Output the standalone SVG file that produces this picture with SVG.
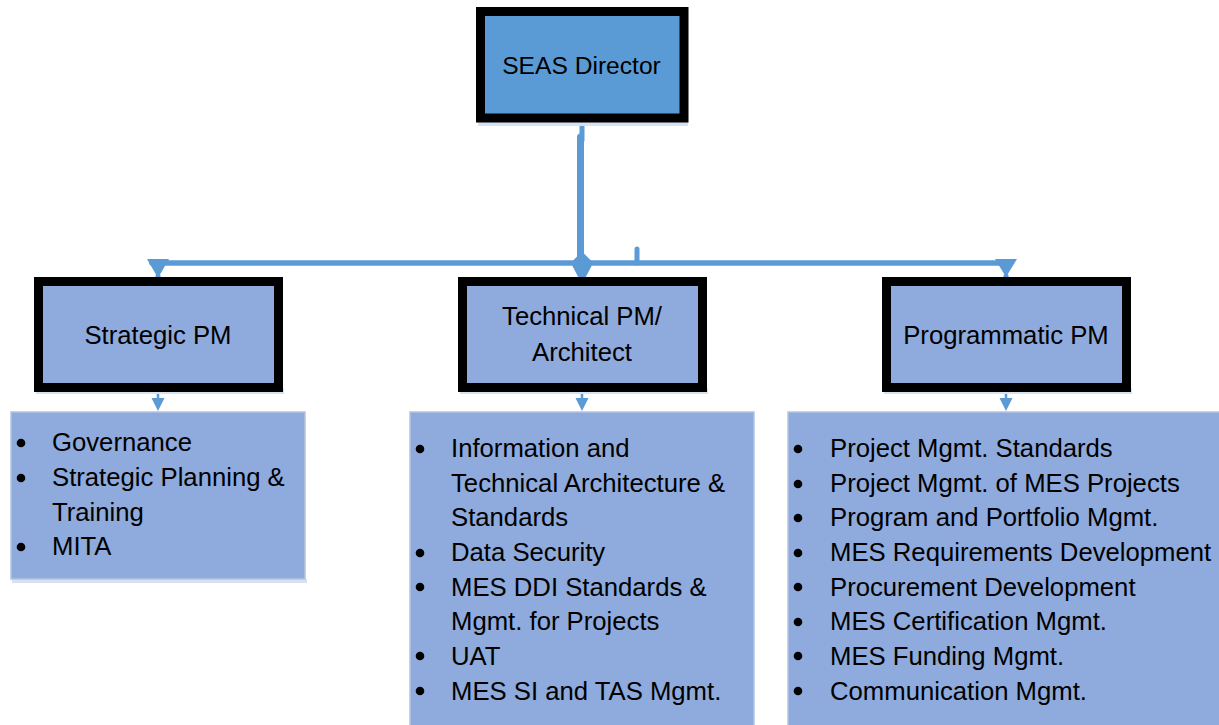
<svg xmlns="http://www.w3.org/2000/svg" width="1219" height="725" viewBox="0 0 1219 725">
<defs>
<style>
.t{font-family:"Liberation Sans",Arial,sans-serif;font-size:25.7px;fill:#000}
.c{text-anchor:middle}
.pm{fill:#8FAADC;stroke:#000;stroke-width:9}
.dir{fill:#5B9BD5;stroke:#000;stroke-width:9}
.sh{fill:#D6E1F2}
.lst{fill:#8FAADC;stroke:#B4C3DF;stroke-width:1.5}
.cn{stroke:#5B9BD5;fill:none;stroke-linecap:round}
.ah{fill:#5B9BD5}
.b{fill:#000}
</style>
</defs>
<rect width="1219" height="725" fill="#fff"/>

<g id="connectors">
  <path class="cn" d="M582 118 V140" stroke-width="5"/>
  <path class="cn" d="M580.5 137 V262" stroke-width="7"/>
  <path class="cn" d="M152 263 H1010" stroke-width="5.5"/>
  <path class="cn" d="M637 249 V263" stroke-width="5"/>
  <polygon class="ah" points="147,259 169,259 158,278"/>
  <path class="cn" d="M158 276 V282" stroke-width="5"/>
  <polygon class="ah" points="995,259 1017,259 1006,277"/>
  <path class="cn" d="M1006 276 V282" stroke-width="5"/>
  <polygon class="ah" points="582,253 592,263 582,282 572,263" stroke="#5B9BD5" stroke-width="2" stroke-linejoin="round"/>
  <path class="cn" d="M158 393 V401" stroke-width="2.5"/>
  <polygon class="ah" points="151.5,398 164.5,398 158,411"/>
  <path class="cn" d="M582 393 V401" stroke-width="2.5"/>
  <polygon class="ah" points="575.5,398 588.5,398 582,411"/>
  <path class="cn" d="M1006 393 V401" stroke-width="2.5"/>
  <polygon class="ah" points="999.5,398 1012.5,398 1006,411"/>
</g>

<g id="seas-director">
  <rect class="sh" x="478" y="118" width="210" height="8"/>
  <rect class="dir" x="480.5" y="11.5" width="203.5" height="106.5"/>
  <text class="t c" x="581.5" y="74" style="font-size:24.6px">SEAS Director</text>
</g>

<g id="strategic-pm">
  <rect class="sh" x="36" y="388" width="248" height="6"/>
  <rect class="pm" x="38.5" y="281.5" width="240" height="106"/>
  <text class="t c" x="158" y="344">Strategic PM</text>
</g>

<g id="technical-pm">
  <rect class="sh" x="460" y="388" width="248" height="6"/>
  <rect class="pm" x="462.5" y="281.5" width="240" height="106"/>
  <text class="t c" x="582" y="325">Technical PM/</text>
  <text class="t c" x="582" y="361">Architect</text>
</g>

<g id="programmatic-pm">
  <rect class="sh" x="884" y="388" width="248" height="6"/>
  <rect class="pm" x="886.5" y="281.5" width="240" height="106"/>
  <text class="t c" x="1006" y="344">Programmatic PM</text>
</g>

<g id="strategic-list">
  <rect class="sh" x="12" y="579" width="295" height="4"/>
  <rect class="lst" x="11" y="412" width="294" height="167"/>
  <circle class="b" cx="21" cy="443" r="4.3"/>
  <circle class="b" cx="21" cy="478" r="4.3"/>
  <circle class="b" cx="21" cy="547" r="4.3"/>
  <text class="t" x="52" y="451">Governance</text>
  <text class="t" x="52" y="486">Strategic Planning &amp;</text>
  <text class="t" x="52" y="521">Training</text>
  <text class="t" x="52" y="555">MITA</text>
</g>

<g id="technical-list">
  <rect class="lst" x="410" y="412" width="344" height="320"/>
  <circle class="b" cx="420" cy="449" r="4.3"/>
  <circle class="b" cx="420" cy="553" r="4.3"/>
  <circle class="b" cx="420" cy="587" r="4.3"/>
  <circle class="b" cx="420" cy="656" r="4.3"/>
  <circle class="b" cx="420" cy="691" r="4.3"/>
  <text class="t" x="451" y="457">Information and</text>
  <text class="t" x="451" y="492">Technical Architecture &amp;</text>
  <text class="t" x="451" y="526">Standards</text>
  <text class="t" x="451" y="561">Data Security</text>
  <text class="t" x="451" y="596">MES DDI Standards &amp;</text>
  <text class="t" x="451" y="630">Mgmt. for Projects</text>
  <text class="t" x="451" y="665">UAT</text>
  <text class="t" x="451" y="700">MES SI and TAS Mgmt.</text>
</g>

<g id="programmatic-list">
  <rect class="lst" x="788" y="412" width="440" height="320"/>
  <circle class="b" cx="798" cy="449" r="4.3"/>
  <circle class="b" cx="798" cy="484" r="4.3"/>
  <circle class="b" cx="798" cy="518" r="4.3"/>
  <circle class="b" cx="798" cy="553" r="4.3"/>
  <circle class="b" cx="798" cy="587" r="4.3"/>
  <circle class="b" cx="798" cy="622" r="4.3"/>
  <circle class="b" cx="798" cy="656" r="4.3"/>
  <circle class="b" cx="798" cy="691" r="4.3"/>
  <text class="t" x="830" y="457">Project Mgmt. Standards</text>
  <text class="t" x="830" y="492">Project Mgmt. of MES Projects</text>
  <text class="t" x="830" y="526">Program and Portfolio Mgmt.</text>
  <text class="t" x="830" y="561">MES Requirements Development</text>
  <text class="t" x="830" y="596">Procurement Development</text>
  <text class="t" x="830" y="630">MES Certification Mgmt.</text>
  <text class="t" x="830" y="665">MES Funding Mgmt.</text>
  <text class="t" x="830" y="700">Communication Mgmt.</text>
</g>
</svg>
